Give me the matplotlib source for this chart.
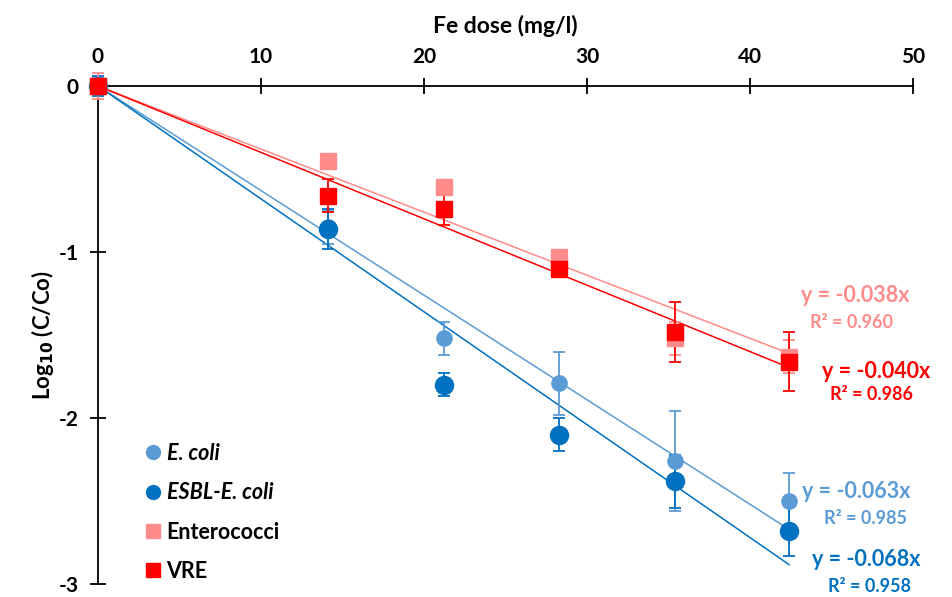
import numpy as np
import matplotlib
matplotlib.use('Agg')
import matplotlib.pyplot as plt
from matplotlib.lines import Line2D

plt.rcParams['font.family'] = ['Lato', 'DejaVu Sans']

# data
dose = [0, 14.1, 21.2, 28.3, 35.4, 42.4]

ecoli = [0, -0.85, -1.52, -1.79, -2.26, -2.50]
ecoli_err = [0.05, 0.10, 0.10, 0.19, 0.30, 0.17]
esbl = [0, -0.86, -1.80, -2.10, -2.38, -2.68]
esbl_err = [0.06, 0.12, 0.07, 0.10, 0.16, 0.15]
entero = [0, -0.45, -0.61, -1.03, -1.52, -1.63]
entero_err = [0.08, 0.04, 0.04, 0.04, 0.10, 0.10]
vre = [0, -0.66, -0.74, -1.10, -1.48, -1.66]
vre_err = [0.04, 0.10, 0.10, 0.04, 0.18, 0.18]

slopes = [-0.063, -0.068, -0.038, -0.040]
r2 = [0.985, 0.958, 0.960, 0.986]
names = ['E. coli', 'ESBL-E. coli', 'Enterococci', 'VRE']
colors = ['#5B9BD5', '#0070C0', '#FF8B8B', '#FF0000']
markers = ['o', 'o', 's', 's']
msizes = [11, 13, 11, 11.5]
label_pos = [(856, 491, 866, 518), (866, 560, 870, 586), (855, 296, 852, 322), (876, 371, 872, 395)]

fig = plt.figure(figsize=(9.52, 5.97), dpi=100)
ax = fig.add_axes([98/952, 1-584/597, (913-98)/952, (584-86)/597])

series = [(ecoli, ecoli_err), (esbl, esbl_err), (entero, entero_err), (vre, vre_err)]
order = [0, 1, 2, 3]
for i in order:
    vals, err = series[i]
    xs = np.array([0, dose[-1]])
    ax.plot(xs, slopes[i]*xs, color=colors[i], lw=1.1, zorder=2)
    ax.errorbar(dose, vals, yerr=err, fmt=markers[i], color=colors[i], ms=msizes[i],
                mec=colors[i], capsize=4, elinewidth=1.3, capthick=1.3,
                clip_on=False, zorder=3)

for i in order:
    x1, y1, x2, y2 = label_pos[i]
    fig.text(x1/952, 1-y1/597, 'y = %.3fx' % slopes[i], color=colors[i],
             fontsize=15.5, fontweight='bold', ha='center', va='center')
    fig.text(x2/952, 1-y2/597, 'R² = %.3f' % r2[i], color=colors[i],
             fontsize=13, fontweight='bold', ha='center', va='center')

ax.set_xlim(0, 50)
ax.set_ylim(-3, 0)
ax.spines['right'].set_visible(False)
ax.spines['bottom'].set_visible(False)
ax.spines['top'].set_linewidth(1.3)
ax.spines['left'].set_linewidth(1.3)
ax.xaxis.tick_top()
ax.xaxis.set_label_position('top')
ax.set_xticks([0, 10, 20, 30, 40, 50])
ax.set_yticks([0, -1, -2, -3])
ax.set_yticklabels(['0', '-1', '-2', '-3'])
ax.tick_params(axis='both', direction='inout', length=12, width=1.3,
               labelsize=15, pad=8)
for lab in ax.get_xticklabels() + ax.get_yticklabels():
    lab.set_fontweight('bold')
ax.set_xlabel('Fe dose (mg/l)', fontsize=16.5, fontweight='bold', labelpad=10)
ax.set_ylabel('Log$_{\\mathbf{10}}$ (C/Co)', fontsize=16, fontweight='bold', labelpad=2)

handles = [Line2D([], [], ls='', marker=markers[i], color=colors[i], ms=10) for i in order]
leg = ax.legend(handles, names, loc='upper left', bbox_to_anchor=(0.03, 0.322),
                frameon=False, fontsize=15.5, handletextpad=0.15, labelspacing=0.85,
                handlelength=1.0)
for j, t in enumerate(leg.get_texts()):
    t.set_fontweight('bold')
    if j < 2:
        t.set_fontstyle('italic')

fig.savefig('out.png', dpi=100)
